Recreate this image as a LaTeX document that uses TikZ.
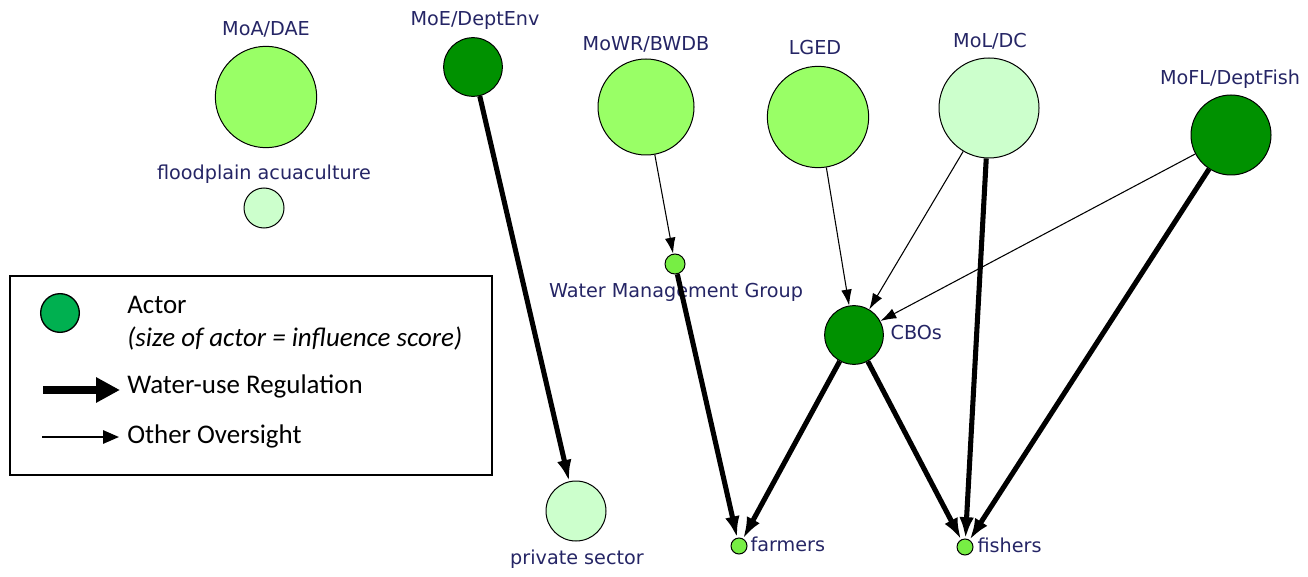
\documentclass[tikz,border=0pt]{standalone}
\usepackage{fontspec}
\setmainfont{DejaVu Sans}
\newfontfamily\legfont{Carlito}
\usetikzlibrary{arrows.meta}
\definecolor{lgreen}{HTML}{99FF66}
\definecolor{dgreen}{HTML}{009100}
\definecolor{pgreen}{HTML}{CCFFCC}
\definecolor{sgreen}{HTML}{77EE44}
\definecolor{leggreen}{HTML}{00B050}
\definecolor{labcol}{HTML}{252565}
\tikzset{
  actor/.style={circle, draw=black, line width=0.75pt, inner sep=0pt, minimum size=#1},
  lab/.style={text=labcol, font=\fontsize{14.4}{16}\selectfont, inner sep=1pt},
  regul/.style={line width=3.8pt, -{Latex[length=16pt,width=11pt]}},
  overs/.style={line width=0.8pt, -{Latex[length=12pt,width=8pt]}},
  legtext/.style={font=\legfont\fontsize{20.2}{24}\selectfont, anchor=west, inner sep=0pt},
}
\begin{document}
\begin{tikzpicture}[x=0.75pt,y=-0.75pt]
\useasboundingbox (0,0) rectangle (1308,577);
% actors
\node[actor=76pt, fill=lgreen] (moa) at (266,97) {};
\node[actor=30pt, fill=pgreen] (flood) at (264,208) {};
\node[actor=44pt, fill=dgreen] (moe) at (473,67) {};
\node[actor=72pt, fill=lgreen] (mowr) at (646,107) {};
\node[actor=76pt, fill=lgreen] (lged) at (818,117) {};
\node[actor=75pt, fill=pgreen] (mol) at (989,108) {};
\node[actor=60pt, fill=dgreen] (mofl) at (1231,135) {};
\node[actor=15pt, fill=sgreen] (wmg) at (675,264) {};
\node[actor=44pt, fill=dgreen] (cbo) at (854,335) {};
\node[actor=45pt, fill=pgreen] (priv) at (576,511) {};
\node[actor=12pt, fill=sgreen] (farm) at (739,546) {};
\node[actor=12pt, fill=sgreen] (fish) at (965,547) {};
% labels
\node[lab] (lmoa) at (266,29) {MoA/DAE};
\node[lab] (lflood) at (264,174) {floodplain acuaculture};
\node[lab] (lmoe) at (475,21) {MoE/DeptEnv};
\node[lab] (lmowr) at (646,44) {MoWR/BWDB};
\node[lab] (llged) at (815,48) {LGED};
\node[lab] (lmol) at (990,41) {MoL/DC};
\node[lab] (lmofl) at (1230,79) {MoFL/DeptFish};
\node[lab] (lwmg) at (676,292) {Water Management Group};
\node[lab, anchor=west] (lcbo) at (889,333) {CBOs};
\node[lab] (lpriv) at (577,559) {private sector};
\node[lab, anchor=west] (lfarm) at (749,544) {farmers};
\node[lab, anchor=west] (lfish) at (976,545) {fishers};
% edges
\draw[regul] (moe) -- (priv);
\draw[overs] (mowr) -- (wmg);
\draw[regul] (wmg) -- (farm);
\draw[overs] (lged) -- (cbo);
\draw[overs] (mol) -- (cbo);
\draw[regul] (mol) -- (fish);
\draw[overs] (mofl) -- (cbo);
\draw[regul] (mofl) -- (fish);
\draw[regul] (cbo) -- (farm);
\draw[regul] (cbo) -- (fish);
% legend
\draw[line width=1.2pt] (10,276) rectangle (492,475);
\node[circle, draw=black, line width=1pt, fill=leggreen, minimum width=27pt, minimum height=29pt, inner sep=0pt] (legc) at (60,313) {};
\node[legtext] (la) at (127,305) {Actor};
\node[legtext] (lb) at (127,339) {\itshape (size of actor = influence score)};
\node[legtext] (lc) at (127,386) {Water-use Regulation};
\node[legtext] (ld) at (127,436) {Other Oversight};
\coordinate (r1) at (43,390);
\coordinate (r2) at (120,390);
\coordinate (o1) at (42,437);
\coordinate (o2) at (119,437);
\draw[line width=5.5pt, -{Triangle[length=18pt,width=18pt]}] (r1) -- (r2);
\draw[line width=1.5pt, -{Triangle[length=12pt,width=10pt]}] (o1) -- (o2);
\end{tikzpicture}
\end{document}
